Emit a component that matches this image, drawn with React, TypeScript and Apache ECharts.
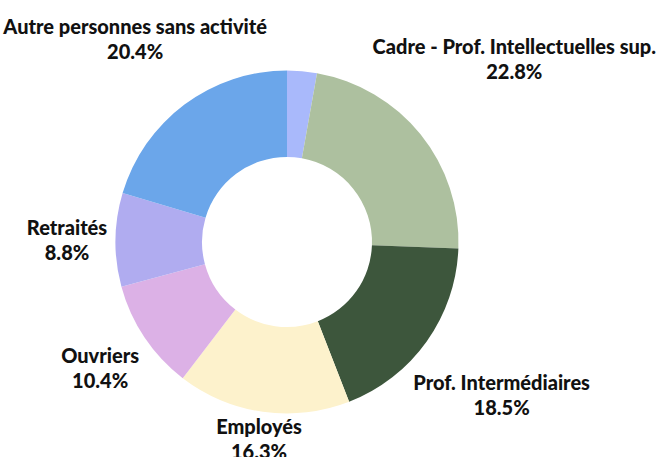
import React, { useEffect, useRef } from "react";
import * as echarts from "echarts";

const categories = [
  "Artisans, commerçants, chefs d'entreprise",
  "Cadre - Prof. Intellectuelles sup.",
  "Prof. Intermédiaires",
  "Employés",
  "Ouvriers",
  "Retraités",
  "Autre personnes sans activité",
];
const values = [2.8, 22.8, 18.5, 16.3, 10.4, 8.8, 20.4];
const colors = ["#a9b9fb", "#adc09f", "#3d563c", "#fdf2cc", "#dcb1e6", "#b0acf0", "#6ba6ea"];
const hiddenLabels = [true, false, false, false, false, false, false];

const CX = 287;
const CY = 242;
const R_IN = 85;
const R_OUT = 171.5;
// gap between ring and each label box (layout tuning)
const LABEL_GAPS = [8, 8, 8, 0, 7, 8, 8];

export default function App() {
  const ref = useRef<HTMLDivElement>(null);
  useEffect(() => {
    document.body.style.margin = "0";
    if (!ref.current) return;
    const chart = echarts.init(ref.current, null, { renderer: "svg" });
    const total = values.reduce((a, b) => a + b, 0);
    const starts: number[] = [];
    let acc = 0;
    values.forEach((v) => {
      starts.push(acc);
      acc += v;
    });
    chart.setOption({
      animation: false,
      backgroundColor: "#ffffff",
      series: [
        {
          type: "pie",
          center: [CX, CY],
          radius: [R_IN, R_OUT],
          startAngle: 90,
          clockwise: true,
          avoidLabelOverlap: false,
          data: categories.map((name, i) => ({
            name,
            value: values[i],
            itemStyle: { color: colors[i] },
            label: { show: !hiddenLabels[i] },
          })),
          label: {
            show: true,
            position: "outside",
            formatter: "{b}\n{c}%",
            fontFamily: "Lato",
            fontWeight: 900,
            fontSize: 20,
            lineHeight: 25,
            color: "#111111",
          },
          labelLine: { show: false },
          labelLayout: (params: any) => {
            const i = params.dataIndex;
            const mid = ((starts[i] + values[i] / 2) / total) * Math.PI * 2;
            const ux = Math.sin(mid);
            const uy = -Math.cos(mid);
            const w = params.labelRect.width;
            const h = params.labelRect.height;
            let d = 0;
            for (; d < 600; d += 0.5) {
              const bx = d * ux;
              const by = d * uy;
              const nx = Math.max(bx - w / 2, Math.min(0, bx + w / 2));
              const ny = Math.max(by - h / 2, Math.min(0, by + h / 2));
              if (Math.hypot(nx, ny) >= R_OUT + LABEL_GAPS[i]) break;
            }
            return {
              x: CX + d * ux,
              y: CY + d * uy,
              align: "center",
              verticalAlign: "middle",
            };
          },
        },
      ],
    });
    return () => chart.dispose();
  }, []);
  return <div ref={ref} style={{ width: 657, height: 457 }} />;
}
